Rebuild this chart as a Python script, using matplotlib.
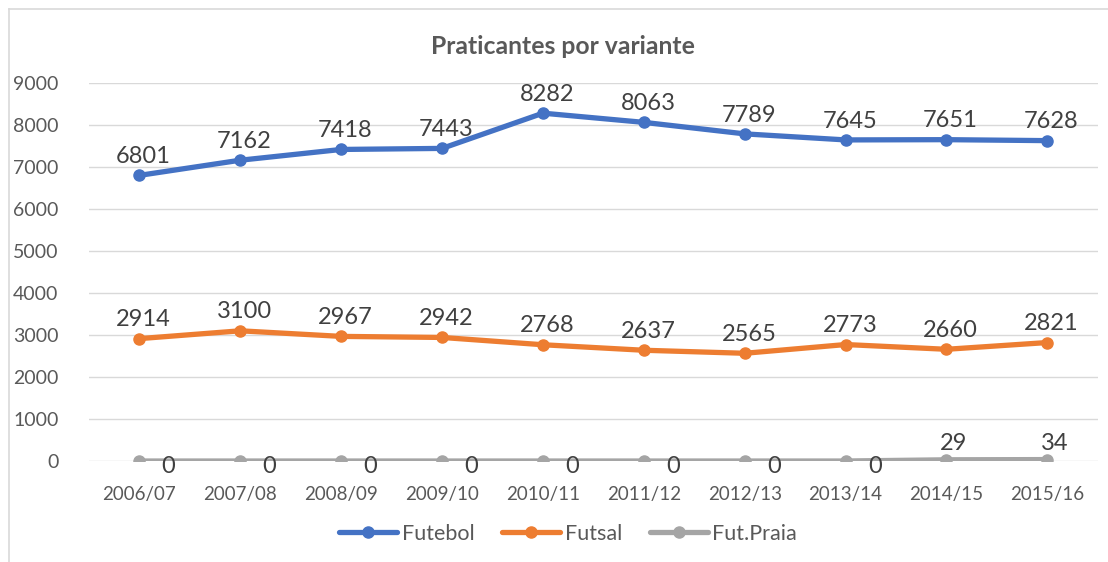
import numpy as np
import matplotlib
matplotlib.use('Agg')
import matplotlib.pyplot as plt
from matplotlib.lines import Line2D

# Data
seasons = ['2006/07', '2007/08', '2008/09', '2009/10', '2010/11',
           '2011/12', '2012/13', '2013/14', '2014/15', '2015/16']
futebol = [6801, 7162, 7418, 7443, 8282, 8063, 7789, 7645, 7651, 7628]
futsal = [2914, 3100, 2967, 2942, 2768, 2637, 2565, 2773, 2660, 2821]
fut_praia = [0, 0, 0, 0, 0, 0, 0, 0, 29, 34]

plt.rcParams['font.family'] = ['Lato', 'DejaVu Sans']

fig = plt.figure(figsize=(11.08, 5.62), dpi=100)
ax = fig.add_axes([0.0803, 0.1797, 0.9105, 0.6726])

x = np.arange(len(seasons))
series = [('Futebol', futebol, '#4472C4'),
          ('Futsal', futsal, '#ED7D31'),
          ('Fut.Praia', fut_praia, '#A5A5A5')]
for name, vals, col in series:
    ax.plot(x, vals, color=col, linewidth=3.8, marker='o', markersize=8,
            label=name, solid_capstyle='round', zorder=3)

# Data labels
for vals in (futebol, futsal):
    for xi, v in zip(x, vals):
        ax.annotate(str(v), (xi, v), xytext=(3, 6), textcoords='offset points',
                    ha='center', va='bottom', fontsize=17, color='#404040')
for xi, v in zip(x, fut_praia):
    if v == 0:
        ax.annotate(str(v), (xi, v), xytext=(21, -4), textcoords='offset points',
                    ha='center', va='center', fontsize=17, color='#404040')
    else:
        ax.annotate(str(v), (xi, v), xytext=(5, 4), textcoords='offset points',
                    ha='center', va='bottom', fontsize=17, color='#404040')

ax.set_xlim(-0.5, len(seasons) - 0.5)
ax.set_ylim(0, 9000)
ax.set_yticks(np.arange(0, 9001, 1000))
ax.set_xticks(x)
ax.set_xticklabels(seasons)
ax.tick_params(axis='both', length=0, labelsize=14, colors='#595959')
ax.tick_params(axis='x', labelsize=13.5, pad=18)
ax.tick_params(axis='y', pad=22)
ax.grid(axis='y', color='#D9D9D9', linewidth=1)
ax.set_axisbelow(True)
for s in ax.spines.values():
    s.set_visible(False)

fig.text(0.508, 0.918, 'Praticantes por variante', ha='center', va='center',
         fontsize=17.8, fontweight='bold', color='#595959')

ax.legend(loc='upper center', bbox_to_anchor=(0.475, -0.115), ncol=3,
          frameon=False, fontsize=15.5, labelcolor='#595959',
          handlelength=2.7, columnspacing=1.3, handletextpad=0.2)

# chart border (left and top visible)
bc = '#D9D9D9'
fig.add_artist(Line2D([9/1108, 9/1108], [0, 1 - 9/562], color=bc, lw=1.2))
fig.add_artist(Line2D([9/1108, 1], [1 - 9/562, 1 - 9/562], color=bc, lw=1.2))

plt.savefig('out.png', dpi=100)
